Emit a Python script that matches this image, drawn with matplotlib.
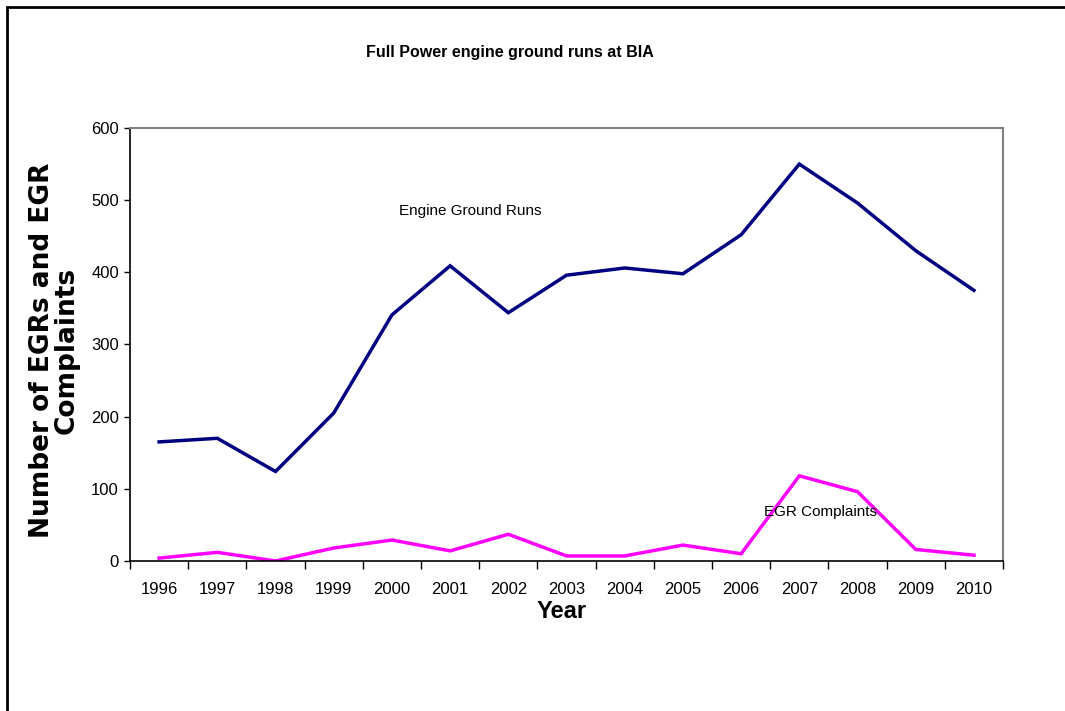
import matplotlib
matplotlib.use('Agg')
import matplotlib.pyplot as plt
from matplotlib import font_manager
from matplotlib.patches import Rectangle
from matplotlib.ticker import FixedLocator

years = ['1996', '1997', '1998', '1999', '2000', '2001', '2002', '2003',
         '2004', '2005', '2006', '2007', '2008', '2009', '2010']
engine_runs = [165, 170, 124, 205, 341, 409, 344, 396, 406, 398, 452, 550, 496, 430, 375]
egr_complaints = [4, 12, 0, 18, 29, 14, 37, 7, 7, 22, 10, 118, 96, 16, 8]

# narrow font if available, else plain Liberation Sans
names = set(f.name for f in font_manager.fontManager.ttflist)
narrow = 'Liberation Sans Narrow' if 'Liberation Sans Narrow' in names else 'Liberation Sans'
wide = 'DejaVu Sans'

fig = plt.figure(figsize=(10.65, 7.11), dpi=100)
ax = fig.add_axes([0.1221, 0.2110, 0.8197, 0.6090])

x = list(range(len(years)))
ax.plot(x, engine_runs, color='#000080', lw=2.5, solid_joinstyle='miter')
ax.plot(x, egr_complaints, color='#FF00FF', lw=2.5, solid_joinstyle='miter')

ax.set_xlim(-0.5, len(years) - 0.5)
ax.set_ylim(0, 600)
ax.set_yticks(range(0, 601, 100))
ax.set_xticks(x)
ax.set_xticklabels(years, family=narrow, fontsize=12)
for lab in ax.get_yticklabels():
    lab.set_family(narrow)
    lab.set_fontsize(12)
ax.xaxis.set_minor_locator(FixedLocator([i - 0.5 for i in range(len(years) + 1)]))
ax.tick_params(axis='x', which='major', length=0, pad=15)
ax.tick_params(axis='x', which='minor', length=6, width=1, color='black')
ax.tick_params(axis='y', length=4, width=1, pad=4)

for s in ['left', 'bottom']:
    ax.spines[s].set_color('black')
    ax.spines[s].set_linewidth(1.2)
for s in ['top', 'right']:
    ax.spines[s].set_color('#808080')
    ax.spines[s].set_linewidth(1.5)

ax.text(5.34, 485, 'Engine Ground Runs', family=narrow, fontsize=11, ha='center', va='center')
ax.text(11.36, 68, 'EGR Complaints', family=narrow, fontsize=11, ha='center', va='center')

fig.text(510 / 1065, 1 - 52 / 711, 'Full Power engine ground runs at BIA',
         family=narrow, fontsize=11.5, fontweight='bold', ha='center', va='center')
fig.text(562 / 1065, 1 - 612 / 711, 'Year', family=narrow, fontsize=17,
         fontweight='bold', ha='center', va='center')
fig.text(54 / 1065, 1 - 350 / 711, 'Number of EGRs and EGR\nComplaints', family=wide,
         fontsize=19, fontweight='bold', ha='center', va='center', rotation=90,
         linespacing=0.92)

# outer chart border (clipped by the image edges)
fig.patches.append(Rectangle((7 / 1065, -0.2), 1.2, 1 - 7 / 711 + 0.2,
                             transform=fig.transFigure, fill=False,
                             edgecolor='black', lw=2))

fig.savefig('out.png', dpi=100)
